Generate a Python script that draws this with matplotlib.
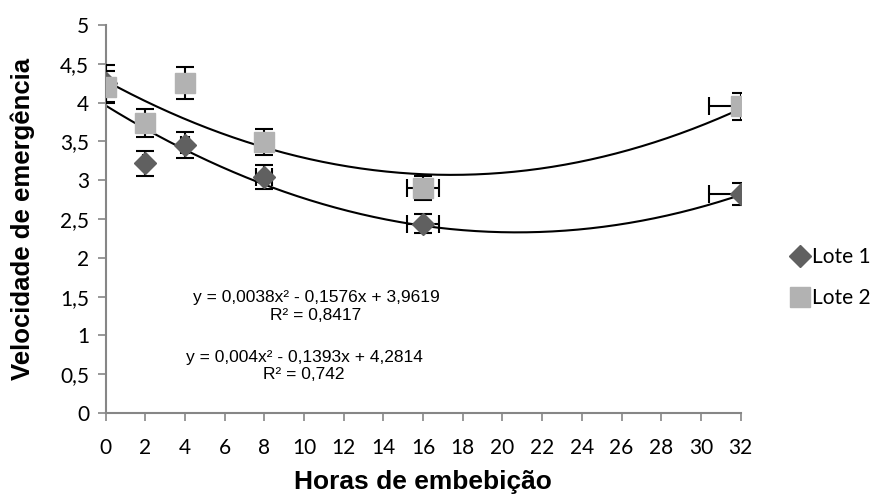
import matplotlib.pyplot as plt
import numpy as np
from matplotlib.lines import Line2D

# dados
horas = [0, 2, 4, 8, 16, 32]
lote1 = [4.25, 3.22, 3.45, 3.04, 2.44, 2.82]
lote1_err = [0.24, 0.16, 0.17, 0.15, 0.12, 0.14]
lote2 = [4.20, 3.74, 4.25, 3.49, 2.90, 3.95]
lote2_err = [0.21, 0.18, 0.21, 0.17, 0.15, 0.18]
xerr_pct = 0.05  # barra horizontal de 5%

# coeficientes das linhas de tendencia (polinomial ordem 2)
coef1 = [0.0038, -0.1576, 3.9619]
coef2 = [0.004, -0.1393, 4.2814]
eq1 = ["y = 0,0038x² - 0,1576x + 3,9619", "R² = 0,8417"]
eq2 = ["y = 0,004x² - 0,1393x + 4,2814", "R² = 0,742"]

cor1 = "#606060"
cor2 = "#b2b2b2"
cinza = "#868686"

fig = plt.figure(figsize=(8.88, 5), dpi=100)
ax = fig.add_axes([0.119, 0.174, 0.715, 0.776])

xs = np.linspace(0, 32, 200)
ax.plot(xs, np.polyval(coef1, xs), color="black", lw=1.5, zorder=2)
ax.plot(xs, np.polyval(coef2, xs), color="black", lw=1.5, zorder=2)

xe = [h * xerr_pct for h in horas]
ax.errorbar(horas, lote2, yerr=lote2_err, xerr=xe, fmt="none", ecolor="black",
            elinewidth=1.5, capsize=6.5, capthick=1.5, zorder=3)
ax.errorbar(horas, lote1, yerr=lote1_err, xerr=xe, fmt="none", ecolor="black",
            elinewidth=1.5, capsize=6.5, capthick=1.5, zorder=3)
ax.plot(horas, lote1, "D", color=cor1, ms=11, mec=cor1, ls="none", zorder=4)
ax.plot(horas, lote2, "s", color=cor2, ms=14, mec=cor2, ls="none", zorder=4)

ax.set_xlim(0, 32)
ax.set_ylim(0, 5)
ax.set_xticks(range(0, 33, 2))
yt = np.arange(0, 5.01, 0.5)
ax.set_yticks(yt)
ax.set_yticklabels([("%g" % v).replace(".", ",") for v in yt])
for lab in ax.get_xticklabels() + ax.get_yticklabels():
    lab.set_fontfamily("Lato")
    lab.set_fontsize(15)
ax.tick_params(direction="out", length=6, color=cinza, width=1.2)
ax.tick_params(axis="x", pad=12)
ax.tick_params(axis="y", pad=6)
for s in ["top", "right"]:
    ax.spines[s].set_visible(False)
for s in ["left", "bottom"]:
    ax.spines[s].set_color(cinza)
    ax.spines[s].set_linewidth(1.5)

ax.set_xlabel("Horas de embebição", family="Liberation Sans", fontweight="bold",
              fontsize=19, va="center")
ax.set_ylabel("Velocidade de emergência", family="Liberation Sans", fontweight="bold",
              fontsize=18.5, va="center")
ax.xaxis.set_label_coords(0.5, -0.178)
ax.yaxis.set_label_coords(-0.131, 0.5)

# equacoes
ft = dict(ha="center", va="center", fontsize=12.5, family="Liberation Sans")
ax.text(10.6, 1.49, eq1[0], **ft)
ax.text(10.6, 1.26, eq1[1], **ft)
ax.text(10.0, 0.72, eq2[0], **ft)
ax.text(10.0, 0.49, eq2[1], **ft)

handles = [Line2D([], [], marker="D", color=cor1, ls="none", ms=11),
           Line2D([], [], marker="s", color=cor2, ls="none", ms=14)]
leg = fig.legend(handles, ["Lote 1", "Lote 2"], loc="center left",
                 bbox_to_anchor=(0.87, 0.445), frameon=False, handlelength=0.8,
                 handletextpad=0.2, labelspacing=1.0, prop={"family": "Lato", "size": 15})

plt.savefig("out.png")
